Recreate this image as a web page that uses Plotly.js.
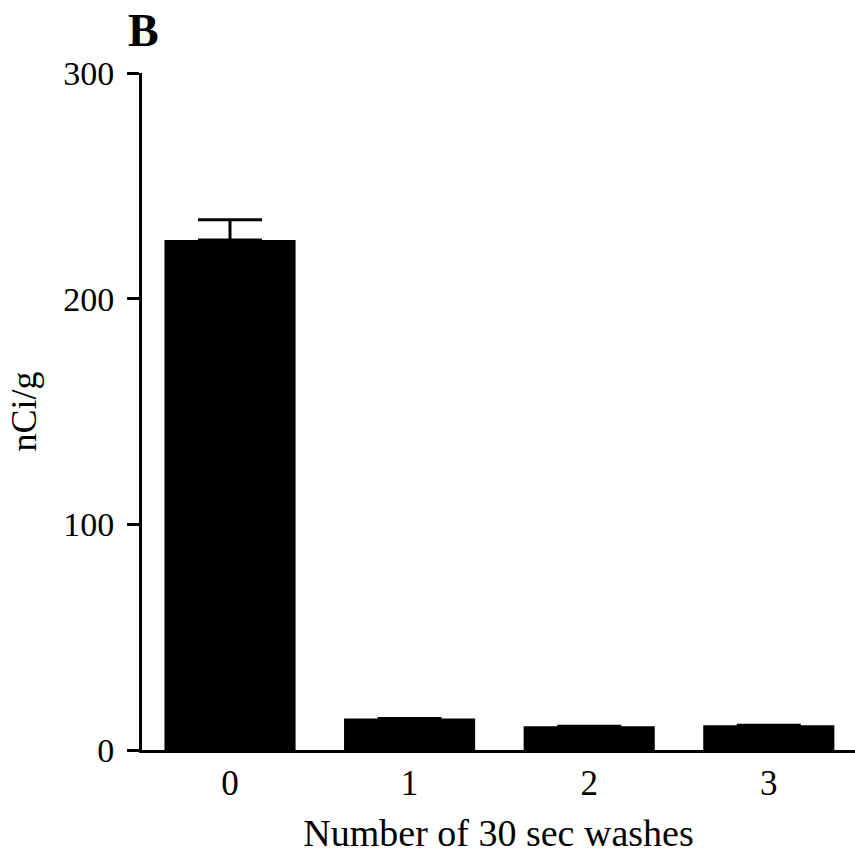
<!DOCTYPE html>
<html><head><meta charset="utf-8">
<script src="https://cdn.plot.ly/plotly-3.0.1.min.js"></script>
<style>body{margin:0;background:#fff}#c{width:855px;height:854px}</style>
</head><body><div id="c"></div>
<script>
const categories = [0, 1, 2, 3];
const values = [226, 14, 10.5, 11];
const errors = [9, 0, 0, 0];
const yTicks = [0, 100, 200, 300];

const trace = {
  type: 'bar', x: categories, y: values,
  marker: {color: '#000'}, width: 0.73,
  error_y: {type: 'data', array: errors, symmetric: false, arrayminus: [0,0,0,0], visible: true, color: '#000', thickness: 3, width: 32}
};
const layout = {
  width: 855, height: 854,
  margin: {l: 142, r: 0, t: 73, b: 104},
  paper_bgcolor: '#fff', plot_bgcolor: '#fff',
  font: {family: 'Liberation Serif, serif', color: '#000'},
  showlegend: false,
  xaxis: {range: [-0.49, 3.48], tickvals: categories, ticktext: categories.map(String),
    showline: true, linecolor: '#000', linewidth: 3, ticks: '', showgrid: false, zeroline: false,
    tickfont: {size: 35}, ticklabelstandoff: 0,
    title: {text: 'Number of 30 sec washes', font: {size: 38}, standoff: 30}},
  yaxis: {range: [0, 300], tickvals: yTicks, showline: true, linecolor: '#000', linewidth: 3,
    ticks: 'outside', ticklen: 12, tickwidth: 3, tickcolor: '#000', showgrid: false, zeroline: false,
    tickfont: {size: 34}, ticklabelstandoff: 6,
    title: {text: 'nCi/g', font: {size: 36}, standoff: 16}},
  annotations: [{text: '<b>B</b>', showarrow: false, font: {size: 46}, xanchor: 'left', yanchor: 'middle',
    xref: 'paper', yref: 'paper', x: (126 - 142) / 713, y: 1 + (73 - 30) / 677}]
};
Plotly.newPlot('c', [trace], layout, {displayModeBar: false});
</script></body></html>
